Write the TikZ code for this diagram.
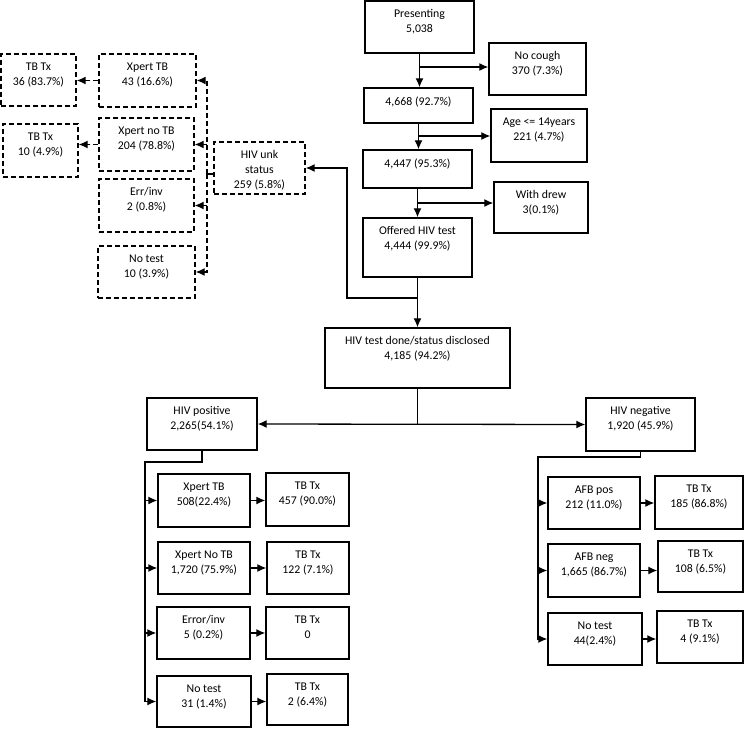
\documentclass[tikz,border=0pt]{standalone}
\usepackage{fontspec}
\setmainfont{Carlito}
\usetikzlibrary{arrows.meta,calc}
\newcommand\mkbox[7]{%
  \node[#2, minimum width={#5-#3}, minimum height={#6-#4}] (#1) at ({(#3+#5)/2},{(#4+#6)/2}) {};
  \node[txt, anchor=north] (#1-t) at ([yshift=-9pt]#1.north) {#7};}
\tikzset{
  sbox/.style={draw, line width=1.4pt, inner sep=0pt},
  dbox/.style={sbox, dash pattern=on 5pt off 3pt},
  txt/.style={inner sep=0pt, align=center, font=\fontsize{11.8}{15}\selectfont},
  conn/.style={line width=1.3pt},
  arr/.style={conn, -{Latex[length=9pt,width=8pt]}},
  darr/.style={arr, dash pattern=on 5pt off 3pt},
  dline/.style={conn, dash pattern=on 5pt off 3pt},
}
\begin{document}
\begin{tikzpicture}[x=1pt, y=-1pt]
\useasboundingbox (0,0) rectangle (745,729);
% main column
\mkbox{pres}{sbox}{365}{1}{474}{53}{Presenting\\5,038}
\mkbox{nocough}{sbox}{489}{43}{586}{95}{No cough\\370 (7.3\%)}
\mkbox{n4668}{sbox}{364}{88}{473}{123}{4,668 (92.7\%)}
\mkbox{age}{sbox}{491}{109}{587}{162}{Age <= 14years\\221 (4.7\%)}
\mkbox{n4447}{sbox}{363}{150}{472}{188}{4,447 (95.3\%)}
\mkbox{drew}{sbox}{494}{182}{588}{233}{With drew\\3(0.1\%)}
\mkbox{offer}{sbox}{363}{218}{472}{277}{Offered HIV test\\4,444 (99.9\%)}
\mkbox{done}{sbox}{325}{328}{510}{388}{HIV test done/status disclosed\\4,185 (94.2\%)}
\mkbox{pos}{sbox}{147}{398}{257}{450}{HIV positive\\2,265(54.1\%)}
\mkbox{neg}{sbox}{586}{398}{695}{451}{HIV negative\\1,920 (45.9\%)}
% HIV positive branch
\mkbox{xtb}{sbox}{158}{474}{250}{527}{Xpert TB\\508(22.4\%)}
\mkbox{tx1}{sbox}{266}{473}{349}{526}{TB Tx\\457 (90.0\%)}
\mkbox{xnotb}{sbox}{158}{542}{250}{594}{Xpert No TB\\1,720 (75.9\%)}
\mkbox{tx2}{sbox}{267}{542}{349}{594}{TB Tx\\122 (7.1\%)}
\mkbox{err}{sbox}{157}{607}{250}{659}{Error/inv\\5 (0.2\%)}
\mkbox{tx3}{sbox}{266}{607}{349}{659}{TB Tx\\0}
\mkbox{notest}{sbox}{157}{676}{251}{727}{No test\\31 (1.4\%)}
\mkbox{tx4}{sbox}{267}{674}{348}{725}{TB Tx\\2 (6.4\%)}
% HIV negative branch
\mkbox{afbp}{sbox}{548}{477}{640}{529}{AFB pos\\212 (11.0\%)}
\mkbox{tx5}{sbox}{655}{476}{743}{529}{TB Tx\\185 (86.8\%)}
\mkbox{afbn}{sbox}{548}{544}{640}{597}{AFB neg\\1,665 (86.7\%)}
\mkbox{tx6}{sbox}{658}{541}{743}{592}{TB Tx\\108 (6.5\%)}
\mkbox{notest2}{sbox}{548}{613}{642}{665}{No test\\44(2.4\%)}
\mkbox{tx7}{sbox}{657}{611}{743}{663}{TB Tx\\4 (9.1\%)}
% HIV unknown (dashed)
\mkbox{dtx1}{dbox}{1}{54}{76}{106}{TB Tx\\36 (83.7\%)}
\mkbox{dxtb}{dbox}{99}{54}{196}{107}{Xpert TB\\43 (16.6\%)}
\mkbox{dtx2}{dbox}{3}{124}{78}{177}{TB Tx\\10 (4.9\%)}
\mkbox{dxno}{dbox}{99}{118}{194}{171}{Xpert no TB\\204 (78.8\%)}
\mkbox{derr}{dbox}{99}{179}{194}{232}{Err/inv\\2 (0.8\%)}
\mkbox{dno}{dbox}{98}{246}{195}{298}{No test\\10 (3.9\%)}
\mkbox{unk}{dbox}{214}{142}{305}{194}{HIV unk\\status\\259 (5.8\%)}

% main flow connectors
\draw[arr] (pres.south) -- (pres.south |- n4668.north);
\coordinate (j1) at ($(pres.south |- 0,67)$);
\draw[arr] (j1) -- (j1 -| nocough.west);
\draw[arr] (n4668.south) -- (n4668.south |- n4447.north);
\coordinate (j2) at ($(n4668.south |- 0,136)$);
\draw[arr] (j2) -- (j2 -| age.west);
\draw[arr] (n4447.south) -- (n4447.south |- offer.north);
\coordinate (j3) at ($(n4447.south |- 0,203)$);
\draw[arr] (j3) -- (j3 -| drew.west);
\draw[arr] (offer.south) -- (offer.south |- done.north);
\coordinate (j4) at ($(offer.south |- 0,298)$);
\coordinate (k4) at (347,298);
\draw[arr] (j4) -- (k4) |- (unk.east);
\draw[conn] (done.south) -- (done.south |- pos.east);
\draw[conn, {Latex[length=9pt,width=8pt]}-{Latex[length=9pt,width=8pt]}] (pos.east) -- (neg.west);

% HIV positive tree
\coordinate (t1) at (145,462);
\draw[arr] (pos.south) |- (t1) |- (notest.west);
\draw[arr] (t1 |- xtb.west) -- (xtb.west);
\draw[arr] (t1 |- xnotb.west) -- (xnotb.west);
\draw[arr] (t1 |- err.west) -- (err.west);
\draw[arr] (xtb.east) -- (tx1.west |- xtb.east);
\draw[arr] (xnotb.east) -- (tx2.west |- xnotb.east);
\draw[arr] (err.east) -- (tx3.west |- err.east);
\draw[arr] (notest.east) -- (tx4.west |- notest.east);

% HIV negative tree
\coordinate (t2) at (538,457);
\draw[arr] (neg.south) |- (t2) |- (notest2.west);
\draw[arr] (t2 |- afbp.west) -- (afbp.west);
\draw[arr] (t2 |- afbn.west) -- (afbn.west);
\draw[arr] (afbp.east) -- (tx5.west |- afbp.east);
\draw[arr] (afbn.east) -- (tx6.west |- afbn.east);
\draw[arr] (notest2.east) -- (tx7.west |- notest2.east);

% HIV unknown tree (dashed)
\coordinate (d0) at (207,174);
\draw[dline] (unk.west |- d0) -- (d0);
\draw[darr] (d0) |- (dxtb.east);
\draw[darr] (d0) |- (dno.east);
\draw[darr] (d0 |- dxno.east) -- (dxno.east);
\draw[darr] (d0 |- derr.east) -- (derr.east);
\draw[darr] (dxtb.west) -- (dtx1.east |- dxtb.west);
\draw[darr] (dxno.west) -- (dtx2.east |- dxno.west);
\end{tikzpicture}
\end{document}
